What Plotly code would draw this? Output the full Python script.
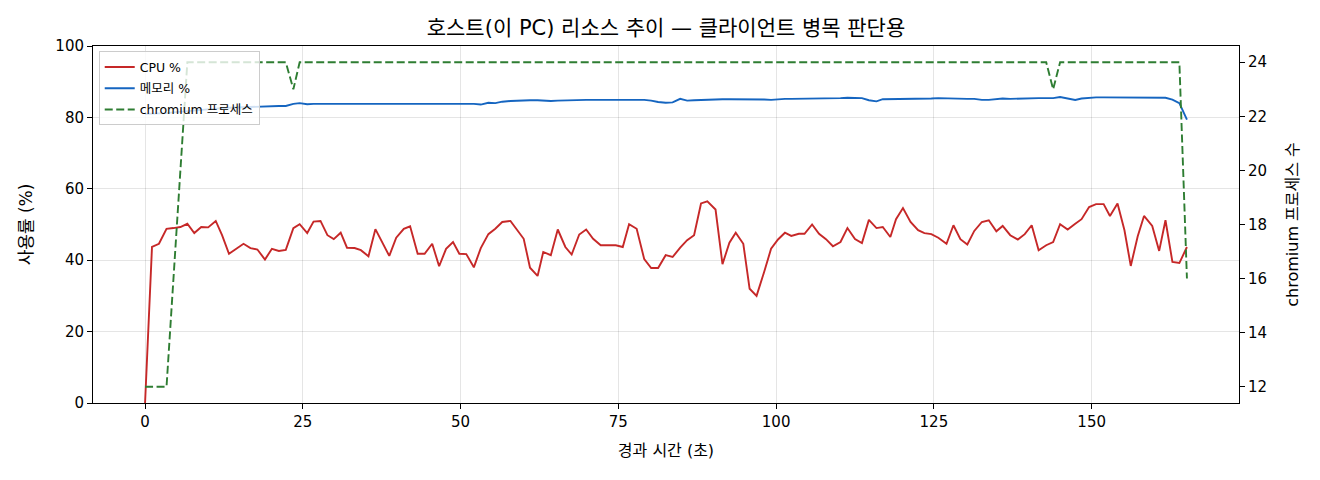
import plotly.graph_objects as go

# elapsed time of each sample (s)
t_sec = [
    0.0, 1.1, 2.2, 3.4, 4.5, 5.6, 6.7, 7.8, 8.9, 10.0,
    11.2, 12.2, 13.3, 14.5, 15.6, 16.7, 17.8, 19.0, 20.1, 21.2,
    22.3, 23.5, 24.5, 25.7, 26.7, 27.8, 28.9, 29.9, 31.0, 32.0,
    33.2, 34.2, 35.4, 36.5, 37.7, 38.7, 39.8, 41.0, 42.0, 43.2,
    44.3, 45.5, 46.6, 47.7, 48.8, 49.8, 50.9, 52.1, 53.2, 54.4,
    55.5, 56.6, 57.9, 58.9, 60.0, 61.0, 62.2, 63.1, 64.3, 65.4,
    66.6, 67.6, 68.8, 69.9, 71.0, 72.2, 73.4, 74.6, 75.7, 76.7,
    77.9, 79.1, 80.2, 81.3, 82.5, 83.6, 84.8, 85.9, 87.0, 88.1,
    89.1, 90.4, 91.5, 92.6, 93.6, 94.8, 95.8, 96.9, 98.1, 99.2,
    100.3, 101.4, 102.4, 103.6, 104.5, 105.7, 106.8, 107.9, 109.0, 110.2,
    111.3, 112.5, 113.6, 114.7, 115.9, 116.9, 118.1, 119.0, 120.1, 121.3,
    122.5, 123.5, 124.6, 125.7, 127.0, 128.1, 129.2, 130.3, 131.4, 132.6,
    133.7, 134.9, 135.9, 137.1, 138.3, 139.4, 140.5, 141.6, 142.8, 143.9,
    145.0, 146.2, 147.4, 148.4, 149.6, 150.7, 151.9, 152.9, 154.1, 155.2,
    156.2, 157.3, 158.3, 159.6, 160.7, 161.7, 162.8, 163.9, 165.1,
]

cpu_pct = [
    0.0, 43.7, 44.6, 48.8, 49.0, 49.3, 50.2, 47.6, 49.3, 49.2,
    51.0, 47.0, 41.8, 43.2, 44.6, 43.4, 43.0, 40.2, 43.2, 42.6,
    42.9, 49.0, 50.1, 47.6, 50.8, 51.0, 47.0, 45.9, 47.7, 43.5,
    43.4, 42.8, 41.1, 48.7, 44.8, 41.2, 46.3, 48.8, 49.5, 41.8,
    41.8, 44.6, 38.3, 43.2, 45.1, 41.8, 41.7, 38.0, 43.4, 47.3,
    48.8, 50.7, 51.0, 48.6, 46.0, 37.9, 35.6, 42.3, 41.4, 48.6,
    43.7, 41.6, 47.2, 48.6, 46.0, 44.2, 44.2, 44.2, 43.7, 50.1,
    48.8, 40.3, 37.8, 37.8, 41.4, 40.9, 43.5, 45.6, 47.0, 55.9,
    56.5, 54.2, 38.9, 44.9, 47.7, 44.6, 32.0, 30.0, 36.7, 43.2,
    45.8, 47.7, 46.8, 47.4, 47.4, 50.0, 47.4, 45.9, 43.9, 45.1,
    49.0, 45.9, 44.8, 51.3, 49.0, 49.3, 46.5, 51.5, 54.6, 50.7,
    48.4, 47.6, 47.3, 46.3, 44.6, 49.8, 45.9, 44.4, 48.2, 50.7,
    51.2, 48.1, 49.6, 47.0, 45.8, 47.3, 49.8, 42.8, 44.2, 45.1,
    50.1, 48.6, 50.2, 51.5, 54.9, 55.7, 55.7, 52.4, 55.9, 48.4,
    38.4, 46.7, 52.4, 49.6, 42.6, 51.2, 39.5, 39.2, 43.7,
]

mem_pct = [
    81.0, 81.0, 81.1, 81.2, 81.4, 81.6, 81.8, 82.0, 82.2, 82.4,
    82.5, 82.6, 82.7, 82.8, 82.9, 82.9, 83.0, 83.1, 83.1, 83.2,
    83.2, 83.8, 84.0, 83.7, 83.8, 83.8, 83.9, 83.9, 84.0, 83.9,
    83.9, 84.0, 84.0, 83.8, 83.9, 84.0, 83.9, 83.8, 83.9, 84.0,
    83.9, 83.9, 83.9, 83.8, 84.0, 83.9, 83.9, 83.8, 83.6, 84.1,
    84.0, 84.4, 84.6, 84.7, 84.8, 84.8, 84.8, 84.7, 84.6, 84.7,
    84.8, 84.8, 84.9, 84.9, 84.9, 84.9, 85.0, 85.0, 84.9, 85.0,
    84.9, 84.9, 84.7, 84.3, 84.1, 84.2, 85.2, 84.7, 84.8, 84.9,
    85.0, 85.1, 85.1, 85.1, 85.1, 85.1, 85.2, 85.1, 85.0, 84.9,
    85.1, 85.2, 85.2, 85.2, 85.3, 85.2, 85.3, 85.4, 85.4, 85.4,
    85.5, 85.4, 85.4, 84.8, 84.5, 85.1, 85.1, 85.2, 85.2, 85.3,
    85.3, 85.3, 85.3, 85.4, 85.3, 85.4, 85.3, 85.2, 85.2, 84.9,
    84.9, 85.2, 85.3, 85.2, 85.3, 85.3, 85.3, 85.4, 85.4, 85.4,
    85.7, 85.3, 84.9, 85.3, 85.5, 85.6, 85.6, 85.6, 85.5, 85.6,
    85.6, 85.6, 85.6, 85.5, 85.5, 85.5, 85.0, 84.0, 79.4,
]

chromium_procs = (
    [12, 12, 12, 12, 16, 20]
    + [24] * 15
    + [23]
    + [24] * 107
    + [23]
    + [24] * 18
    + [16]
)

x_ticks = [0, 25, 50, 75, 100, 125, 150]
y_ticks = [0, 20, 40, 60, 80, 100]
y2_ticks = [12, 14, 16, 18, 20, 22, 24]

# DejaVu for latin/digits, Noto CJK picks up the hangul
FONT = "DejaVu Sans, Noto Sans CJK KR, sans-serif"
GRID = "rgba(0,0,0,0.10)"

# the page body adds an 8px offset, so the figure is 8px smaller
W, H = 1312, 472

fig = go.Figure()

fig.add_trace(go.Scatter(
    x=t_sec, y=cpu_pct, name="CPU %", mode="lines",
    line=dict(color="#c62828", width=1.9),
    legendgroup="cpu",
))
fig.add_trace(go.Scatter(
    x=t_sec, y=mem_pct, name="메모리 %", mode="lines",
    line=dict(color="#1565c0", width=1.9),
    legendgroup="mem",
))
fig.add_trace(go.Scatter(
    x=t_sec, y=chromium_procs, name="chromium 프로세스", mode="lines",
    line=dict(color="#2e7d32", width=1.9, dash="8px,3.5px"),
    yaxis="y2",
    legendgroup="chrom",
))

fig.update_layout(
    width=W,
    height=H,
    margin=dict(l=85, r=81, t=38, b=77),
    paper_bgcolor="white",
    plot_bgcolor="white",
    font=dict(family=FONT, size=15, color="#000"),
    title=dict(
        text="호스트(이 PC) 리소스 추이 — 클라이언트 병목 판단용",
        x=658 / W, xanchor="center",
        y=1 - 20 / H, yanchor="middle",
        font=dict(size=21),
    ),
    xaxis=dict(
        title=dict(text="경과 시간 (초)", standoff=14, font=dict(size=16)),
        range=[-8.25, 173.35],
        tickvals=x_ticks,
        showgrid=True, gridcolor=GRID, gridwidth=1,
        zeroline=False,
        showline=True, linecolor="black", linewidth=1, mirror=True,
        ticks="outside", ticklen=5, tickcolor="black",
        tickfont=dict(size=15),
    ),
    yaxis=dict(
        title=dict(text="사용률 (%)", standoff=18, font=dict(size=17)),
        range=[0, 100],
        tickvals=y_ticks,
        showgrid=True, gridcolor=GRID, gridwidth=1,
        zeroline=False,
        showline=True, linecolor="black", linewidth=1, mirror=True,
        ticks="outside", ticklen=5, tickcolor="black",
        tickfont=dict(size=15),
    ),
    yaxis2=dict(
        title=dict(text="chromium 프로세스 수", standoff=20, font=dict(size=16)),
        overlaying="y", side="right",
        range=[11.4, 24.6],
        tickvals=y2_ticks,
        showgrid=False, zeroline=False,
        showline=True, linecolor="black", linewidth=1,
        ticks="outside", ticklen=5, tickcolor="black",
        tickfont=dict(size=15),
    ),
    legend=dict(
        x=0.005, y=0.985, xanchor="left", yanchor="top",
        bgcolor="rgba(255,255,255,0.8)",
        bordercolor="#cccccc", borderwidth=1,
        font=dict(size=12.5),
        itemwidth=30,
        tracegroupgap=2,
    ),
    showlegend=True,
)

fig.write_html("out.html")
